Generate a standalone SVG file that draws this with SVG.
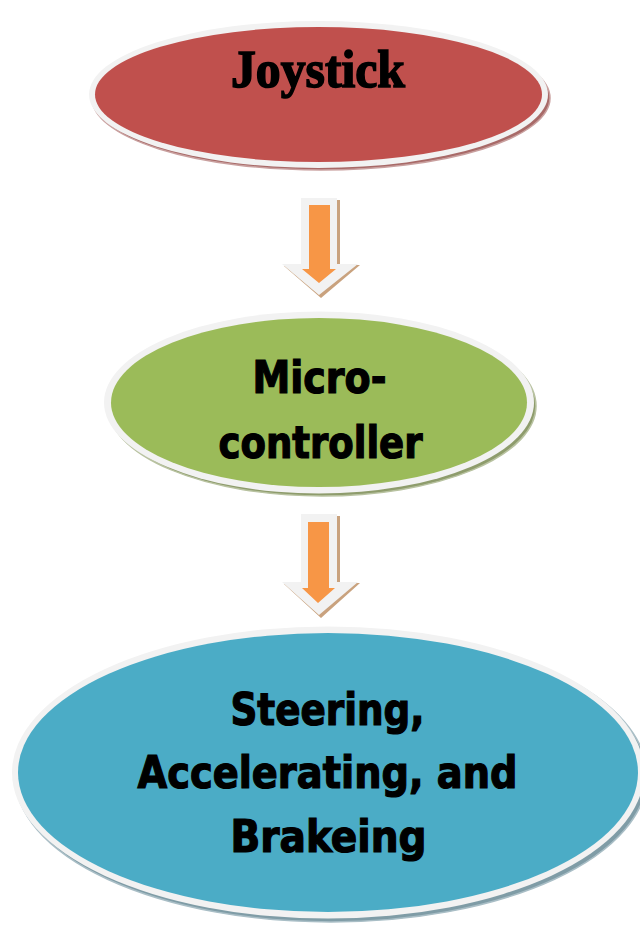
<svg xmlns="http://www.w3.org/2000/svg" width="640" height="927" viewBox="0 0 640 927">
<style>
.rim{fill:#F2F2F2}
.lbl{fill:#000;stroke:#000;font-weight:bold;text-anchor:middle}
.serif{font-family:"Liberation Serif","DejaVu Serif",serif;stroke-width:1.6}
.cond{font-family:"DejaVu Sans Condensed","DejaVu Sans","Liberation Sans Narrow",sans-serif;font-stretch:condensed;stroke-width:1.2}
.arrow-shadow{fill:#C9A27E}
.arrow-rim{fill:#F2F2F2}
.arrow-body{fill:#F79646}
</style>
<rect width="640" height="927" fill="#FFFFFF"/>

<g id="connectors">
  <g id="arrow1">
    <polygon class="arrow-shadow" points="303,200 340,200 340,265 360,265 321,298 284,266 303,266"/>
    <polygon class="arrow-rim" points="301,198 337,198 337,264 358,264 319,295 282,264 301,264"/>
    <polygon class="arrow-body" points="309,205 330,205 330,269 336,269 319,283 302,269 309,269"/>
  </g>
  <g id="arrow2">
    <polygon class="arrow-shadow" points="303,516 340,516 340,583 360,583 321,618 284,584 303,584"/>
    <polygon class="arrow-rim" points="301,514 337,514 337,582 358,582 319,615 282,582 301,582"/>
    <polygon class="arrow-body" points="308,522 329,522 329,588 335,588 318,603 302,588 308,588"/>
  </g>
</g>

<g id="node-joystick">
  <ellipse cx="321" cy="98" rx="229" ry="72" fill="#A86A68" stroke="#C9A09F" stroke-width="1.5"/>
  <ellipse class="rim" cx="318.5" cy="94.5" rx="229.5" ry="73.5"/>
  <ellipse cx="318.5" cy="94.5" rx="223.5" ry="67.5" fill="#C0504D"/>
  <text class="lbl serif" x="318" y="87" font-size="53" textLength="174" lengthAdjust="spacingAndGlyphs">Joystick</text>
</g>

<g id="node-microcontroller">
  <ellipse cx="322" cy="406" rx="214" ry="90" fill="#8E9C6C" stroke="#B8C2A0" stroke-width="1.5"/>
  <ellipse class="rim" cx="319" cy="402.5" rx="215" ry="91"/>
  <ellipse cx="319" cy="402.5" rx="208" ry="84.5" fill="#9BBB59"/>
  <text class="lbl cond" x="319.5" y="393" font-size="44" textLength="134" lengthAdjust="spacingAndGlyphs">Micro-</text>
  <text class="lbl cond" x="320.5" y="458" font-size="44" textLength="204" lengthAdjust="spacingAndGlyphs">controller</text>
</g>

<g id="node-actuation">
  <ellipse cx="331" cy="776" rx="316" ry="146" fill="#7F9CA6" stroke="#A9BEC6" stroke-width="1.5"/>
  <ellipse class="rim" cx="328" cy="772.5" rx="316" ry="146"/>
  <ellipse cx="328" cy="772.5" rx="310" ry="139.5" fill="#4BACC6"/>
  <text class="lbl cond" x="327.5" y="725" font-size="45" textLength="194" lengthAdjust="spacingAndGlyphs">Steering,</text>
  <text class="lbl cond" x="327.5" y="788" font-size="45" textLength="380" lengthAdjust="spacingAndGlyphs">Accelerating, and</text>
  <text class="lbl cond" x="328.5" y="852" font-size="45" textLength="196" lengthAdjust="spacingAndGlyphs">Brakeing</text>
</g>
</svg>
